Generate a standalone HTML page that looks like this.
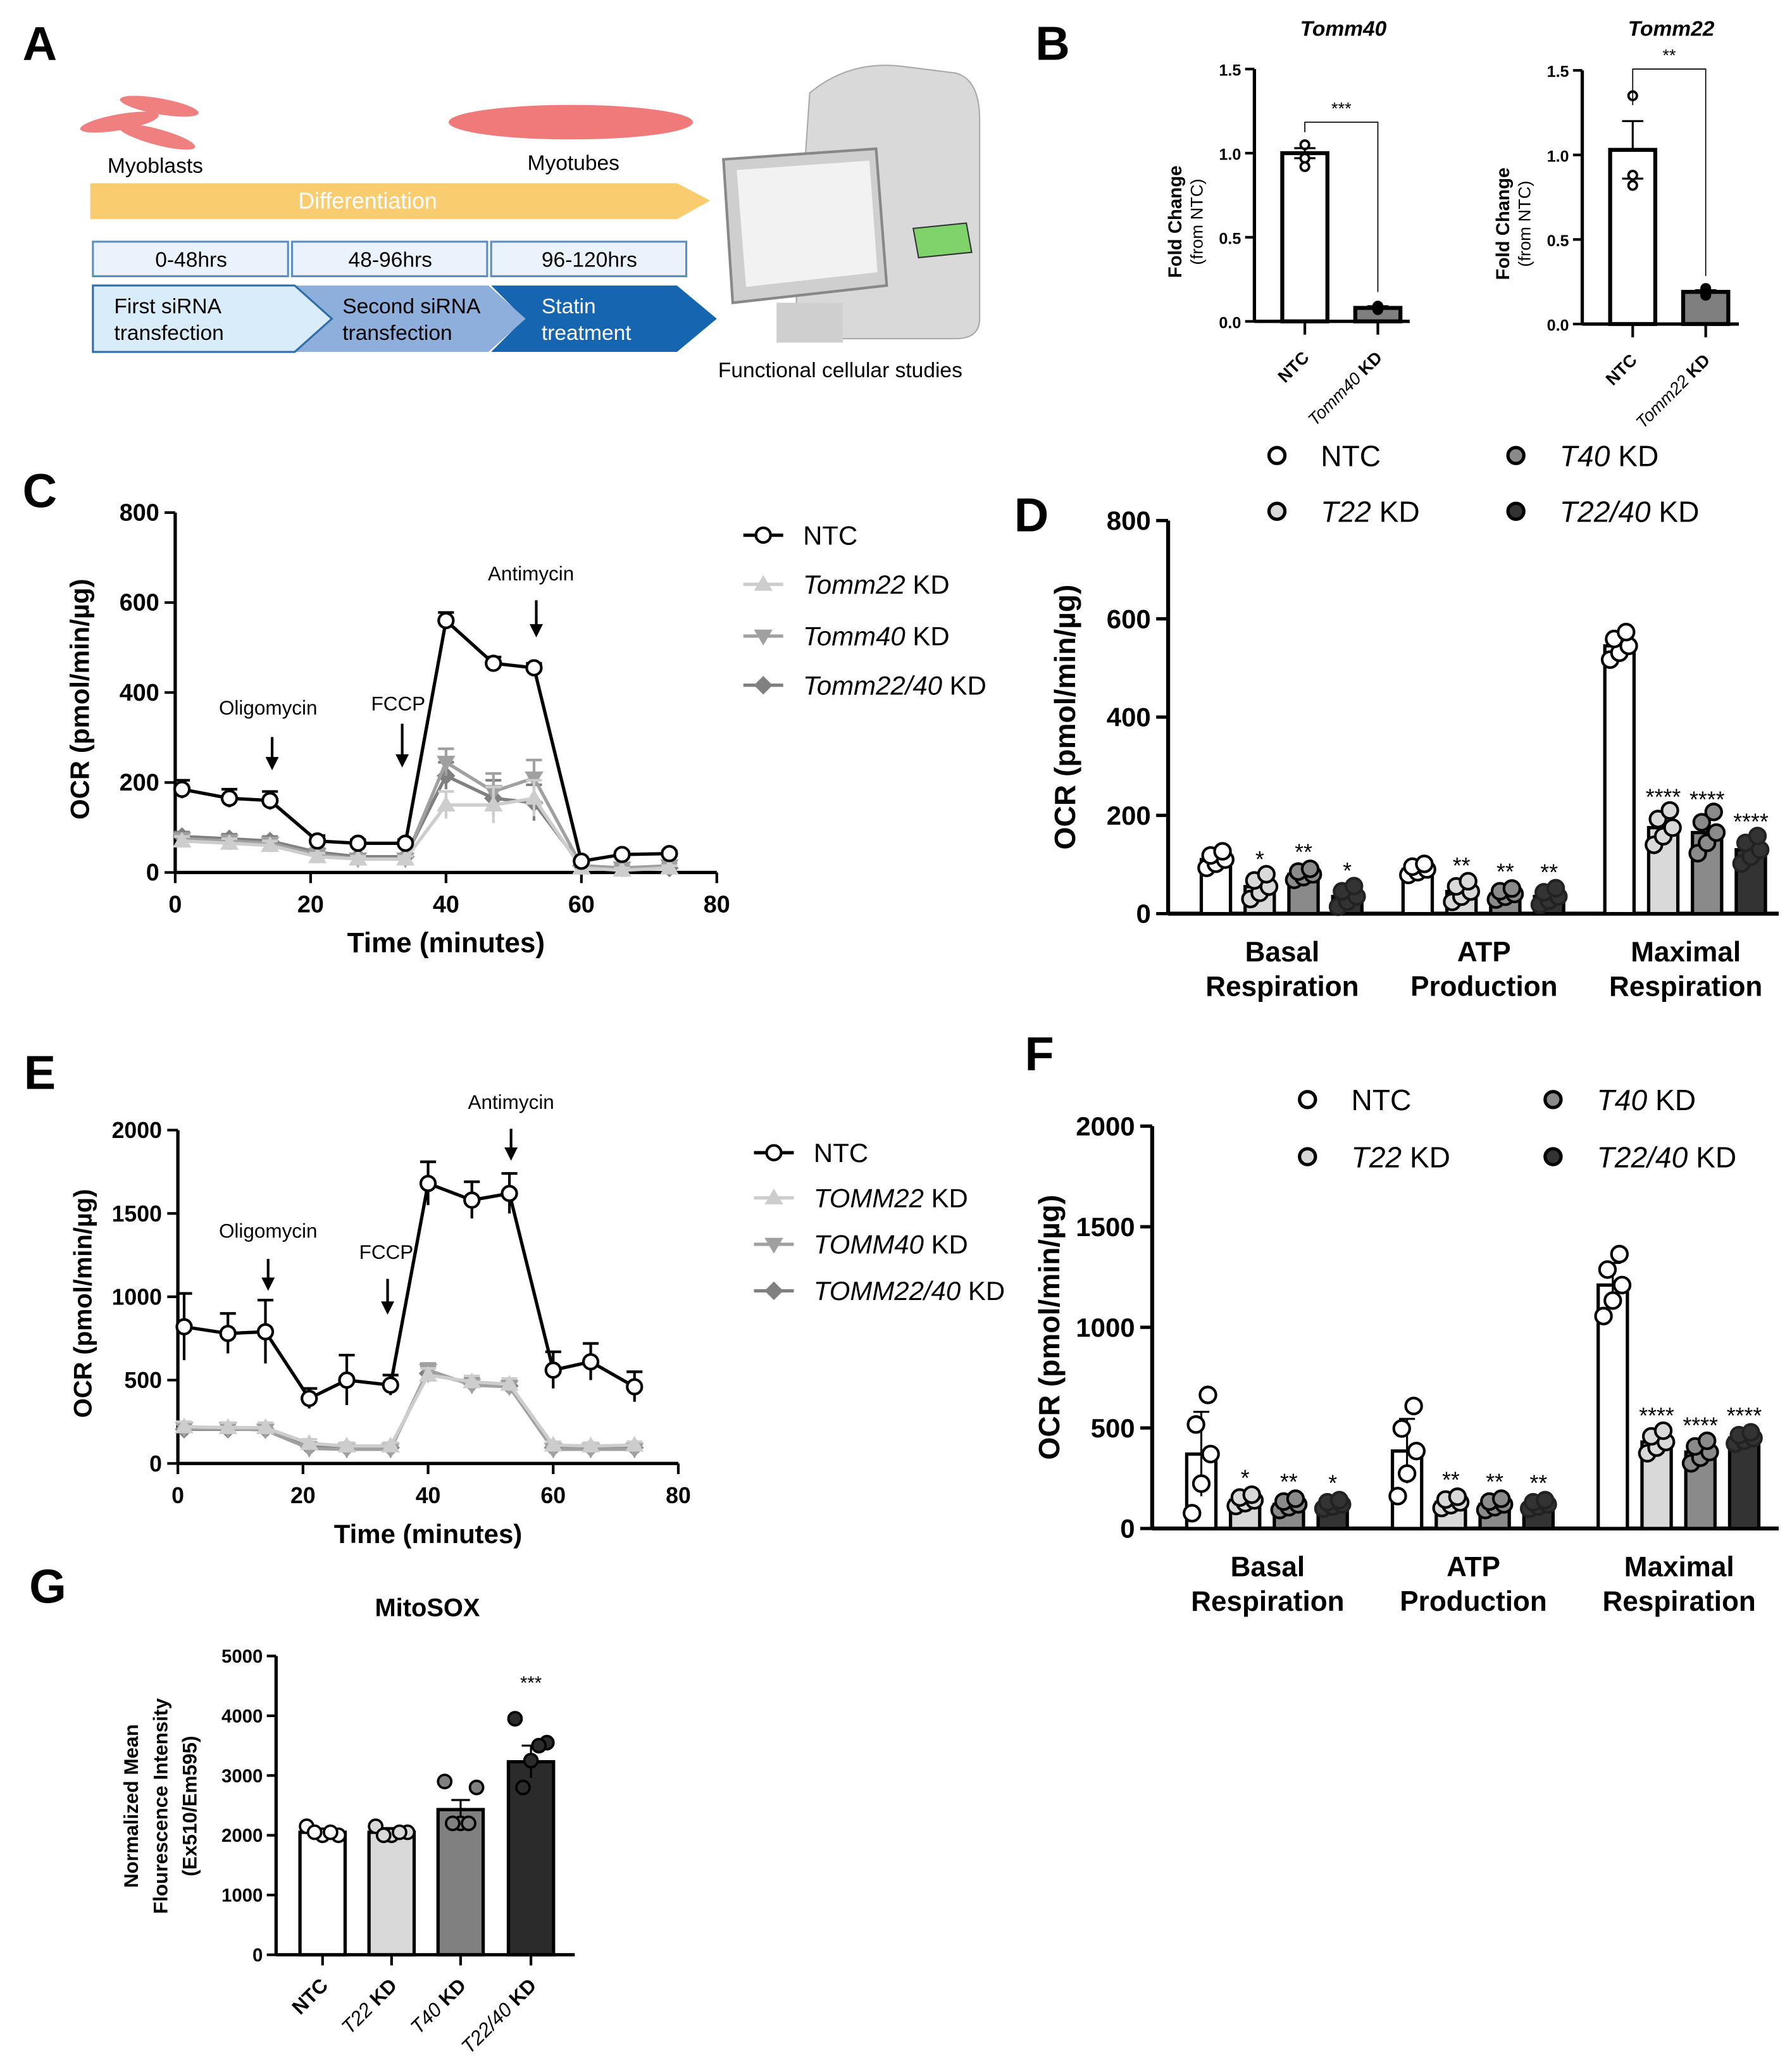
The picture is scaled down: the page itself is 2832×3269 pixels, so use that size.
<!DOCTYPE html>
<html><head><meta charset="utf-8">
<style>
html,body{margin:0;padding:0;background:#fff;}
svg{display:block;font-family:"Liberation Sans",Arial,sans-serif;}
</style></head>
<body>
<svg id="fig" width="2832" height="3269" viewBox="0 0 1350 1558" preserveAspectRatio="none" xmlns="http://www.w3.org/2000/svg"></svg>
<script>
// ---------- DATA ----------
// Panel B
const bCats40 = ["NTC", "Tomm40 KD"];
const bVals40 = [1.0, 0.08];
const bErr40 = [0.03, 0.01];
const bPts40 = [[1.05, 0.97, 0.92], [0.07, 0.09, 0.09]];
const bCats22 = ["NTC", "Tomm22 KD"];
const bVals22 = [1.03, 0.19];
const bErr22 = [0.17, 0.01];
const bPts22 = [[1.35, 0.88, 0.82], [0.17, 0.21, 0.18]];
const bTicks = [0, 0.5, 1.0, 1.5];
const bTickLabels = ["0.0", "0.5", "1.0", "1.5"];
// Panel C (time course)
const cTimes = [1, 8, 14, 21, 27, 34, 40, 47, 53, 60, 66, 73];
const cNTC = [185, 165, 160, 70, 65, 65, 560, 465, 455, 25, 40, 42];
const cNTCerr = [20, 20, 20, 12, 8, 8, 18, 14, 10, 5, 6, 6];
const cT22 = [70, 65, 60, 35, 30, 30, 150, 150, 165, 10, 5, 10];
const cT40 = [75, 70, 65, 40, 30, 30, 245, 180, 210, 15, 10, 15];
const cT2240 = [80, 75, 70, 45, 35, 35, 215, 165, 155, 15, 10, 10];
const cKDerr = [10, 10, 10, 8, 6, 6, 30, 40, 40, 5, 5, 5];
const cXTicks = [0, 20, 40, 60, 80];
const cYTicks = [0, 200, 400, 600, 800];
// Panel D
const dGroups = ["Basal Respiration", "ATP Production", "Maximal Respiration"];
const dNTC = [110, 90, 545];
const dT22 = [55, 45, 175];
const dT40 = [80, 40, 165];
const dT2240 = [35, 35, 130];
const dErr = [[12, 8, 20], [18, 15, 25], [8, 8, 30], [15, 12, 20]];
const dStars = [["", "*", "**", "*"], ["", "**", "**", "**"], ["", "****", "****", "****"]];
const dYTicks = [0, 200, 400, 600, 800];
// Panel E
const eTimes = [1, 8, 14, 21, 27, 34, 40, 47, 53, 60, 66, 73];
const eNTC = [820, 780, 790, 390, 500, 470, 1680, 1580, 1620, 560, 610, 460];
const eNTCerr = [200, 120, 190, 60, 150, 60, 130, 110, 120, 110, 110, 90];
const eT22 = [220, 215, 215, 120, 105, 105, 530, 490, 475, 110, 105, 110];
const eT40 = [210, 210, 200, 90, 85, 85, 560, 470, 460, 85, 85, 85];
const eT2240 = [205, 205, 205, 100, 95, 95, 540, 480, 465, 95, 95, 95];
const eKDerr = [30, 30, 30, 25, 20, 20, 40, 35, 35, 20, 20, 20];
const eXTicks = [0, 20, 40, 60, 80];
const eYTicks = [0, 500, 1000, 1500, 2000];
// Panel F
const fNTC = [370, 385, 1210];
const fT22 = [140, 130, 430];
const fT40 = [120, 120, 380];
const fT2240 = [120, 120, 450];
const fErr = [[210, 160, 110], [20, 20, 40], [20, 20, 40], [15, 15, 20]];
const fStars = [["", "*", "**", "*"], ["", "**", "**", "**"], ["", "****", "****", "****"]];
const fYTicks = [0, 500, 1000, 1500, 2000];
// Panel G
const gCats = ["NTC", "T22 KD", "T40 KD", "T22/40 KD"];
const gVals = [2050, 2050, 2430, 3230];
const gErr = [60, 70, 160, 270];
const gPts = [[2150, 2000, 2000, 2050, 2050], [2150, 2000, 2050, 2000, 2050], [2900, 2200, 2800, 2200, 2200], [3950, 3250, 3550, 2800, 3500]];
const gYTicks = [0, 1000, 2000, 3000, 4000, 5000];

// ---------- HELPERS ----------
const NS = "http://www.w3.org/2000/svg";
const svg = document.getElementById("fig");
function mk(tag, attrs, name, parent) {
  const el = document.createElementNS(NS, tag);
  for (const k in attrs) el.setAttribute(k, attrs[k]);
  
  
  (parent || svg).appendChild(el);
  return el;
}
function txt(x, y, s, size, name, opts) {
  opts = opts || {};
  const a = {x: x, y: y, "font-size": size, "text-anchor": opts.anchor || "middle", fill: opts.fill || "#000"};
  if (opts.bold) a["font-weight"] = "bold";
  if (opts.italic) a["font-style"] = "italic";
  if (opts.rot !== undefined) a.transform = "rotate(" + opts.rot + " " + x + " " + y + ")";
  const t = mk("text", a, name);
  t.textContent = s;
  return t;
}
function line(x1, y1, x2, y2, w, name, col) {
  return mk("line", {x1: x1, y1: y1, x2: x2, y2: y2, stroke: col || "#000", "stroke-width": w}, name);
}
function marker(kind, x, y, r, fill, name) {
  if (kind === "circle") return mk("circle", {cx: x, cy: y, r: r, fill: fill, stroke: "#000", "stroke-width": 2}, name);
  let pts;
  if (kind === "up") pts = [[x, y - r], [x + r, y + r * 0.7], [x - r, y + r * 0.7]];
  else if (kind === "down") pts = [[x, y + r], [x + r, y - r * 0.7], [x - r, y - r * 0.7]];
  else pts = [[x, y - r], [x + r, y], [x, y + r], [x - r, y]];
  return mk("polygon", {points: pts.map(p => p.join(",")).join(" "), fill: fill}, name);
}

// ---------- PANEL LETTERS ----------
[["A", 30, 45], ["B", 793, 45], ["C", 30, 382], ["D", 777, 400], ["E", 30, 820], ["F", 783, 806], ["G", 36, 1207]].forEach(l => {
  txt(l[1], l[2], l[0], 36, "panel-label-" + l[0].toLowerCase(), {bold: true});
});

// ---------- PANEL A (schematic) ----------
mk("ellipse", {cx: 90, cy: 92, rx: 30, ry: 6, fill: "#f08080", transform: "rotate(-10 90 92)"}, "myoblast-cell");
mk("ellipse", {cx: 120, cy: 80, rx: 30, ry: 6, fill: "#f08080", transform: "rotate(10 120 80)"}, "myoblast-cell");
mk("ellipse", {cx: 118, cy: 103, rx: 30, ry: 6, fill: "#f08080", transform: "rotate(15 118 103)"}, "myoblast-cell");
txt(117, 130, "Myoblasts", 16, "myoblasts-label");
mk("ellipse", {cx: 430, cy: 92, rx: 92, ry: 13, fill: "#f07a7a"}, "myotube-cell");
txt(432, 128, "Myotubes", 16, "myotubes-label");
mk("polygon", {points: "68,138 510,138 535,151 510,165 68,165", fill: "#f9cc6f"}, "differentiation-arrow");
txt(277, 157, "Differentiation", 17, "differentiation-label", {fill: "#fff"});
[["0-48hrs", 70], ["48-96hrs", 220], ["96-120hrs", 370]].forEach(b => {
  mk("rect", {x: b[1], y: 182, width: 147, height: 26, fill: "#eaf3fb", stroke: "#5b8fc2", "stroke-width": 1.5}, "timeline-box");
  txt(b[1] + 74, 201, b[0], 16, "timeline-label");
});
mk("polygon", {points: "370,215 510,215 540,240 510,265 370,265 395,240", fill: "#1565b0"}, "statin-chevron");
mk("polygon", {points: "222,215 368,215 396,240 368,265 222,265 248,240", fill: "#8eaedb"}, "second-sirna-chevron");
mk("polygon", {points: "70,215 222,215 250,240 222,265 70,265", fill: "#d8ecfa", stroke: "#2f6ea9", "stroke-width": 1.5}, "first-sirna-chevron");
txt(86, 236, "First siRNA", 16, "first-sirna-label", {anchor: "start"});
txt(86, 256, "transfection", 16, "first-sirna-label", {anchor: "start"});
txt(258, 236, "Second siRNA", 16, "second-sirna-label", {anchor: "start"});
txt(258, 256, "transfection", 16, "second-sirna-label", {anchor: "start"});
txt(408, 236, "Statin", 16, "statin-label", {anchor: "start", fill: "#fff"});
txt(408, 256, "treatment", 16, "statin-label", {anchor: "start", fill: "#fff"});
mk("path", {d: "M610,70 Q640,45 680,50 L720,55 Q738,60 738,90 L738,240 Q738,255 720,255 L600,255 L600,215 Z", fill: "#d9d9d9", stroke: "#aaa"}, "analyzer-machine");
mk("polygon", {points: "545,120 660,112 668,215 552,228", fill: "#cfcfcf", stroke: "#888", "stroke-width": 2}, "analyzer-monitor");
mk("polygon", {points: "555,128 655,121 661,205 562,216", fill: "#f2f2f2"}, "analyzer-screen");
mk("rect", {x: 585, y: 228, width: 50, height: 30, fill: "#cfcfcf"}, "analyzer-stand");
mk("polygon", {points: "688,172 728,168 732,190 692,194", fill: "#7fd36a", stroke: "#333"}, "analyzer-plate");
txt(633, 284, "Functional cellular studies", 16, "functional-studies-label");

// ---------- PANEL B ----------
function panelB(ax, y0, yTop, cats, vals, errs, pts, title, stars, bracketY, xEnd) {
  const ys = v => y0 - (v / 1.5) * (y0 - yTop);
  const xc = [ax + 38, ax + 93];
  txt(ax + 67, 27, title, 16, "chart-title-" + title.toLowerCase(), {bold: true, italic: true});
  vals.forEach((v, i) => {
    mk("rect", {x: xc[i] - 17, y: ys(v), width: 34, height: y0 - ys(v), fill: i === 0 ? "#fff" : "#7f7f7f", stroke: "#000", "stroke-width": 3}, "bar-" + cats[i].toLowerCase().replace(/ /g, "-"));
    line(xc[i], ys(v + errs[i]), xc[i], ys(v), 1.5, "error-bar");
    line(xc[i] - 8, ys(v + errs[i]), xc[i] + 8, ys(v + errs[i]), 1.5, "error-cap");
    if (i === 0) line(xc[i] - 8, ys(v - errs[i]), xc[i] + 8, ys(v - errs[i]), 1.5, "error-cap");
    pts[i].forEach(p => mk("circle", {cx: xc[i] + (Math.random() * 0 + (pts[i].indexOf(p) - 1) * 0), cy: ys(p), r: 3.2, fill: i === 0 ? "#fff" : "#000", stroke: "#000", "stroke-width": 1.8}, "data-point"));
    line(xc[i], y0, xc[i], y0 + 10, 2, "x-tick");
    const lab = txt(xc[i] + 4, y0 + 28, cats[i], 13, "x-tick-label", {anchor: "end", bold: i === 0, italic: i === 1, rot: -45});
    if (i === 1) { lab.textContent = cats[i].split(" ")[0] + " "; const ts = document.createElementNS(NS, "tspan"); ts.setAttribute("font-weight", "bold"); ts.setAttribute("font-style", "normal"); ts.textContent = "KD"; lab.appendChild(ts); }
  });
  line(ax, yTop, ax, y0, 2.5, "y-axis");
  line(ax, y0, xEnd, y0, 2.5, "x-axis");
  bTicks.forEach((t, i) => {
    line(ax - 7, ys(t), ax, ys(t), 2, "y-tick");
    txt(ax - 10, ys(t) + 5, bTickLabels[i], 12, "y-tick-label", {anchor: "end", bold: true});
  });
  txt(ax - 55, (y0 + yTop) / 2 + 20, "Fold  Change", 14, "y-axis-title", {bold: true, rot: -90});
  txt(ax - 39, (y0 + yTop) / 2 + 20, "(from NTC)", 13, "y-axis-title", {rot: -90});
  mk("polyline", {points: [xc[0], ys(vals[0] + errs[0]) - 12, xc[0], bracketY, xc[1], bracketY, xc[1], ys(vals[1]) - 12].join(","), fill: "none", stroke: "#000", "stroke-width": 0.8}, "significance-bracket");
  txt((xc[0] + xc[1]) / 2, bracketY - 6, stars, 13, "significance-stars");
}
panelB(945, 242, 52, bCats40, bVals40, bErr40, bPts40, "Tomm40", "***", 92, 1062);
panelB(1192, 244, 53, bCats22, bVals22, bErr22, bPts22, "Tomm22", "**", 52, 1310);

// ---------- LINE CHARTS ----------
function lineChart(cfg) {
  const xs = t => cfg.x0 + t / cfg.xmax * (cfg.x1 - cfg.x0);
  const ys = v => cfg.y0 - v / cfg.ymax * (cfg.y0 - cfg.yTop);
  line(cfg.x0, cfg.yTop, cfg.x0, cfg.y0, 2.5, "y-axis");
  line(cfg.x0, cfg.y0, cfg.x1, cfg.y0, 2.5, "x-axis");
  cfg.yTicks.forEach(t => { line(cfg.x0 - 8, ys(t), cfg.x0, ys(t), 2, "y-tick"); txt(cfg.x0 - 12, ys(t) + 6, String(t), cfg.fs, "y-tick-label", {anchor: "end", bold: true}); });
  cfg.xTicks.forEach(t => { line(xs(t), cfg.y0, xs(t), cfg.y0 + 8, 2, "x-tick"); txt(xs(t), cfg.y0 + 30, String(t), cfg.fs, "x-tick-label", {bold: true}); });
  txt(cfg.x0 - 65, (cfg.y0 + cfg.yTop) / 2 + 5, "OCR (pmol/min/µg)", cfg.fs + 2, "y-axis-title", {bold: true, rot: -90});
  txt((cfg.x0 + cfg.x1) / 2, cfg.y0 + 60, "Time (minutes)", cfg.fs + 3, "x-axis-title", {bold: true});
  const series = [
    {v: cfg.t2240, e: cfg.kdErr, kind: "diamond", col: "#808080", name: "tomm22-40-kd"},
    {v: cfg.t40, e: cfg.kdErr, kind: "down", col: "#a0a0a0", name: "tomm40-kd"},
    {v: cfg.t22, e: cfg.kdErr, kind: "up", col: "#cdcdcd", name: "tomm22-kd"},
    {v: cfg.ntc, e: cfg.ntcErr, kind: "circle", col: "#000", name: "ntc"}
  ];
  series.forEach(s => {
    s.v.forEach((v, i) => {
      line(xs(cfg.times[i]), ys(v - s.e[i]), xs(cfg.times[i]), ys(v + s.e[i]), 2, "error-bar-" + s.name, s.col);
      line(xs(cfg.times[i]) - 6, ys(v + s.e[i]), xs(cfg.times[i]) + 6, ys(v + s.e[i]), 2, "error-cap-" + s.name, s.col);
    });
    mk("polyline", {points: s.v.map((v, i) => xs(cfg.times[i]) + "," + ys(v)).join(" "), fill: "none", stroke: s.col, "stroke-width": 2.5}, "line-" + s.name);
    s.v.forEach((v, i) => marker(s.kind, xs(cfg.times[i]), ys(v), s.kind === "circle" ? 5.5 : 7, s.kind === "circle" ? "#fff" : s.col, "point-" + s.name));
  });
  cfg.ann.forEach(a => {
    txt(a[0], a[1], a[2], 15, "annotation-" + a[2].toLowerCase());
    line(a[3], a[4], a[3], a[5] - 8, 2, "annotation-arrow");
    mk("polygon", {points: (a[3] - 5) + "," + (a[5] - 10) + " " + (a[3] + 5) + "," + (a[5] - 10) + " " + a[3] + "," + a[5]}, "annotation-arrowhead");
  });
  const lk = [["circle", "#fff", "NTC"], ["up", "#cdcdcd", cfg.lab[0]], ["down", "#a0a0a0", cfg.lab[1]], ["diamond", "#808080", cfg.lab[2]]];
  lk.forEach((l, i) => {
    const y = cfg.legY[i];
    line(cfg.legX, y, cfg.legX + 30, y, 2.5, "legend-line", i === 0 ? "#000" : l[1]);
    marker(l[0], cfg.legX + 15, y, l[0] === "circle" ? 5.5 : 7, l[1], "legend-marker");
    const t = txt(cfg.legX + 45, y + 7, "", 20, "legend-entry", {anchor: "start"});
    if (i === 0) t.textContent = "NTC";
    else { const ts = document.createElementNS(NS, "tspan"); ts.setAttribute("font-style", "italic"); ts.textContent = l[2]; t.appendChild(ts); t.appendChild(document.createTextNode(" KD")); }
  });
}
lineChart({x0: 132, x1: 540, y0: 657, yTop: 386, xmax: 80, ymax: 800, fs: 18, times: cTimes, ntc: cNTC, ntcErr: cNTCerr, t22: cT22, t40: cT40, t2240: cT2240, kdErr: cKDerr, xTicks: cXTicks, yTicks: cYTicks,
  ann: [[202, 538, "Oligomycin", 205, 555, 580], [300, 535, "FCCP", 303, 545, 578], [400, 437, "Antimycin", 404, 452, 480]],
  legX: 560, legY: [403, 440, 479, 516], lab: ["Tomm22", "Tomm40", "Tomm22/40"]});
lineChart({x0: 134, x1: 511, y0: 1102, yTop: 851, xmax: 80, ymax: 2000, fs: 17, times: eTimes, ntc: eNTC, ntcErr: eNTCerr, t22: eT22, t40: eT40, t2240: eT2240, kdErr: eKDerr, xTicks: eXTicks, yTicks: eYTicks,
  ann: [[202, 932, "Oligomycin", 202, 948, 972], [291, 948, "FCCP", 292, 963, 990], [385, 835, "Antimycin", 385, 850, 874]],
  legX: 568, legY: [868, 902, 937, 972], lab: ["TOMM22", "TOMM40", "TOMM22/40"]});

// ---------- GROUPED BAR CHARTS ----------
function groupChart(cfg) {
  const ys = v => cfg.y0 - v / cfg.ymax * (cfg.y0 - cfg.yTop);
  const fills = ["#fff", "#d9d9d9", "#8a8a8a", "#333"];
  const data = [cfg.ntc, cfg.t22, cfg.t40, cfg.t2240];
  const names = ["ntc", "t22-kd", "t40-kd", "t22-40-kd"];
  line(cfg.x0, cfg.yTop, cfg.x0, cfg.y0, 3, "y-axis");
  line(cfg.x0, cfg.y0, cfg.x1, cfg.y0, 3, "x-axis");
  cfg.yTicks.forEach(t => { line(cfg.x0 - 9, ys(t), cfg.x0, ys(t), 2.5, "y-tick"); txt(cfg.x0 - 13, ys(t) + 7, String(t), 20, "y-tick-label", {anchor: "end", bold: true}); });
  txt(cfg.x0 - 70, (cfg.y0 + cfg.yTop) / 2, "OCR (pmol/min/µg)", 22, "y-axis-title", {bold: true, rot: -90});
  dGroups.forEach((g, gi) => {
    const gx = cfg.gx[gi];
    data.forEach((d, si) => {
      const x = gx + si * 33;
      const v = d[gi];
      mk("rect", {x: x - 11, y: ys(v), width: 22, height: cfg.y0 - ys(v), fill: fills[si], stroke: "#000", "stroke-width": 2.5}, "bar-" + names[si] + "-" + gi);
      const e = cfg.err[si][gi];
      line(x, ys(v + e), x, ys(Math.max(0, v - e)), 1.5, "error-bar");
      line(x - 6, ys(v + e), x + 6, ys(v + e), 1.5, "error-cap");
      [-7, 0, 7, -4, 5].forEach((dx, k) => {
        const pv = Math.max(5, v + (k - 2) * e * 0.7);
        mk("circle", {cx: x + dx, cy: ys(pv), r: 6, fill: si === 0 ? "#fff" : fills[si], stroke: si === 3 ? "#222" : "#000", "stroke-width": 2}, "data-point");
      });
      if (cfg.stars[gi][si]) txt(x, ys(v + e) - 8, cfg.stars[gi][si], 17, "significance-stars");
    });
    const parts = g.split(" ");
    txt(gx + 50, cfg.y0 + 36, parts[0], 21, "group-label", {bold: true});
    txt(gx + 50, cfg.y0 + 62, parts[1], 21, "group-label", {bold: true});
  });
  const leg = [["NTC", "#fff"], ["T22 KD", "#d9d9d9"], ["T40 KD", "#8a8a8a"], ["T22/40 KD", "#333"]];
  leg.forEach((l, i) => {
    const lx = cfg.legX[i % 2 === 0 ? (i === 0 ? 0 : 1) : (i === 1 ? 0 : 1)];
    const col = (i === 0 || i === 1) ? cfg.legX[0] : cfg.legX[1];
    const row = (i === 0 || i === 2) ? cfg.legY[0] : cfg.legY[1];
    mk("circle", {cx: col, cy: row, r: 6, fill: l[1], stroke: "#000", "stroke-width": 2.5}, "legend-marker");
    const t = txt(col + 33, row + 8, "", 22, "legend-entry", {anchor: "start"});
    if (i === 0) t.textContent = "NTC";
    else { const ts = document.createElementNS(NS, "tspan"); ts.setAttribute("font-style", "italic"); ts.textContent = l[0].replace(" KD", ""); t.appendChild(ts); t.appendChild(document.createTextNode(" KD")); }
  });
}
groupChart({x0: 880, x1: 1340, y0: 688, yTop: 392, ymax: 800, yTicks: dYTicks, gx: [916, 1068, 1220], ntc: dNTC, t22: dT22, t40: dT40, t2240: dT2240, err: dErr, stars: dStars, legX: [962, 1142], legY: [343, 385]});
groupChart({x0: 868, x1: 1340, y0: 1151, yTop: 848, ymax: 2000, yTicks: fYTicks, gx: [905, 1060, 1215], ntc: fNTC, t22: fT22, t40: fT40, t2240: fT2240, err: fErr, stars: fStars, legX: [985, 1170], legY: [828, 871]});

// ---------- PANEL G ----------
(function () {
  const x0 = 208, y0 = 1472, yTop = 1247, ymax = 5000;
  const ys = v => y0 - v / ymax * (y0 - yTop);
  const fills = ["#fff", "#d9d9d9", "#808080", "#2b2b2b"];
  const xc = [243, 295, 347, 400];
  txt(322, 1217, "MitoSOX", 19, "chart-title-mitosox", {bold: true});
  gVals.forEach((v, i) => {
    mk("rect", {x: xc[i] - 17, y: ys(v), width: 34, height: y0 - ys(v), fill: fills[i], stroke: "#000", "stroke-width": 2.5}, "bar-" + gCats[i].toLowerCase().replace(/[ \/]/g, "-"));
    line(xc[i], ys(v + gErr[i]), xc[i], ys(v - gErr[i]), 1.5, "error-bar");
    line(xc[i] - 7, ys(v + gErr[i]), xc[i] + 7, ys(v + gErr[i]), 1.5, "error-cap");
    gPts[i].forEach((p, k) => mk("circle", {cx: xc[i] + [-12, 0, 12, -6, 6][k], cy: ys(p), r: 5, fill: i === 0 ? "#fff" : fills[i], stroke: "#000", "stroke-width": 1.8}, "data-point"));
    line(xc[i], y0, xc[i], y0 + 8, 2, "x-tick");
    const lab = txt(xc[i] + 5, y0 + 24, "", 15, "x-tick-label", {anchor: "end", bold: true, rot: -45});
    if (i === 0) lab.textContent = "NTC";
    else { const ts = document.createElementNS(NS, "tspan"); ts.setAttribute("font-style", "italic"); ts.setAttribute("font-weight", "normal"); ts.textContent = gCats[i].replace(" KD", ""); lab.appendChild(ts); lab.appendChild(document.createTextNode(" KD")); }
  });
  line(x0, yTop, x0, y0, 2.5, "y-axis");
  line(x0, y0, 433, y0, 2.5, "x-axis");
  gYTicks.forEach(t => { line(x0 - 7, ys(t), x0, ys(t), 2, "y-tick"); txt(x0 - 10, ys(t) + 5, String(t), 14, "y-tick-label", {anchor: "end", bold: true}); });
  txt(104, 1360, "Normalized Mean", 15, "y-axis-title", {bold: true, rot: -90});
  txt(126, 1360, "Flourescence Intensity", 15, "y-axis-title", {bold: true, rot: -90});
  txt(148, 1360, "(Ex510/Em595)", 15, "y-axis-title", {bold: true, rot: -90});
  txt(400, 1272, "***", 14, "significance-stars");
})();
</script>
</body></html>
